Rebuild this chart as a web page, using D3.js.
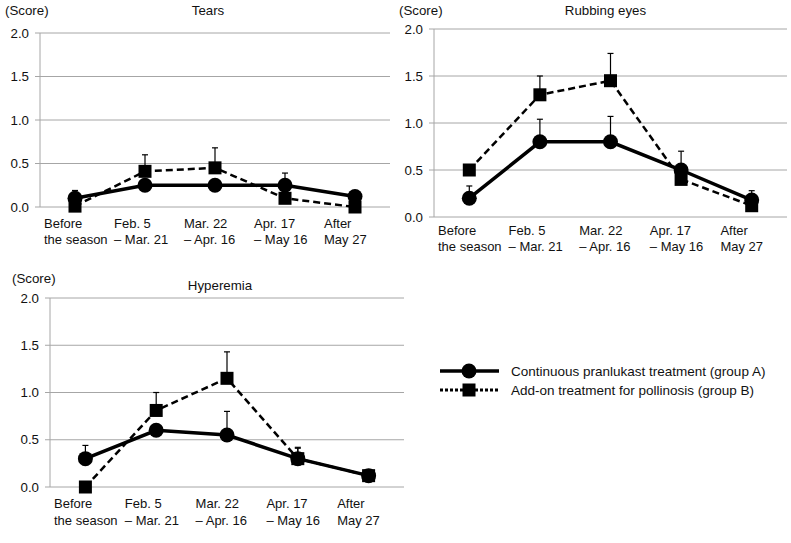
<!DOCTYPE html>
<html><head><meta charset="utf-8">
<script src="https://cdn.jsdelivr.net/npm/d3@7"></script>
<style>body{margin:0;background:#fff}svg{display:block;font-family:"Liberation Sans",Arial,sans-serif}</style>
</head><body><svg id="c" width="791" height="543"></svg>
<script>
const categories = [["Before","the season"],["Feb. 5","– Mar. 21"],["Mar. 22","– Apr. 16"],["Apr. 17","– May 16"],["After","May 27"]];
const yTicks = [0,0.5,1.0,1.5,2.0];
const panelTitles = ["Tears","Rubbing eyes","Hyperemia"];
const groupA_tears = [0.10,0.25,0.25,0.25,0.12];
const groupA_tears_err = [0.19,null,null,0.39,null];
const groupB_tears = [0.01,0.41,0.45,0.10,0.00];
const groupB_tears_err = [null,0.60,0.68,null,null];
const groupA_rub = [0.20,0.80,0.80,0.50,0.18];
const groupA_rub_err = [0.33,1.04,1.07,0.70,0.28];
const groupB_rub = [0.50,1.30,1.45,0.40,0.12];
const groupB_rub_err = [null,1.50,1.74,null,null];
const groupA_hyp = [0.30,0.60,0.55,0.30,0.12];
const groupA_hyp_err = [0.44,null,0.80,0.41,null];
const groupB_hyp = [0.00,0.81,1.15,0.30,0.12];
const groupB_hyp_err = [null,1.00,1.43,0.42,null];
const legendLabels = ["Continuous pranlukast treatment (group A)","Add-on treatment for pollinosis (group B)"];

const FS = 13.3, FX = 13, FL = 13.5;
const svg = d3.select("#c");
const panels = [
  {title:panelTitles[0], A:groupA_tears, Ae:groupA_tears_err, B:groupB_tears, Be:groupB_tears_err,
   x0:40, x1:390, y0:207, y1:33, scoreX:5, scoreY:15, titleY:15, lab1:228, lab2:244},
  {title:panelTitles[1], A:groupA_rub, Ae:groupA_rub_err, B:groupB_rub, Be:groupB_rub_err,
   x0:434, x1:787, y0:217, y1:29, scoreX:399, scoreY:15, titleY:15, lab1:235, lab2:251},
  {title:panelTitles[2], A:groupA_hyp, Ae:groupA_hyp_err, B:groupB_hyp, Be:groupB_hyp_err,
   x0:50, x1:404, y0:487, y1:298, scoreX:12, scoreY:283, titleY:290, lab1:508, lab2:525}
];
const grid = "#a6a6a6";
panels.forEach(p=>{
  const g = svg.append("g");
  const x = d3.scaleBand().domain(d3.range(categories.length)).range([p.x0,p.x1]);
  const y = d3.scaleLinear().domain([0,2]).range([p.y0,p.y1]);
  const cx = i => x(i)+x.bandwidth()/2;
  g.selectAll(".gl").data(yTicks).join("line")
    .attr("x1",p.x0-5).attr("x2",p.x1).attr("y1",d=>y(d)).attr("y2",d=>y(d))
    .attr("stroke",grid).attr("stroke-width",1);
  g.append("line").attr("x1",p.x0).attr("x2",p.x0).attr("y1",y(0)).attr("y2",y(2))
    .attr("stroke",grid).attr("stroke-width",1);
  g.selectAll(".tl").data(yTicks).join("text")
    .attr("x",p.x0-11).attr("y",d=>y(d)).attr("dy","0.35em").attr("text-anchor","end")
    .attr("font-size",FS).attr("fill","#111").text(d=>d3.format(".1f")(d));
  g.append("text").attr("x",p.scoreX).attr("y",p.scoreY).attr("font-size",FS).attr("fill","#111").text("(Score)");
  g.append("text").attr("x",(p.x0+p.x1)/2 - (p.title==="Rubbing eyes"?5:7)).attr("y",p.titleY).attr("text-anchor","middle")
    .attr("font-size",FS).attr("fill","#111").text(p.title);
  categories.forEach((c,i)=>{
    const t = g.append("text").attr("x",x(i)+4).attr("font-size",FX).attr("fill","#111");
    t.append("tspan").attr("x",x(i)+4).attr("y",p.lab1).text(c[0]);
    t.append("tspan").attr("x",x(i)+4).attr("y",p.lab2).text(c[1]);
  });
  const line = d3.line().x((d,i)=>cx(i)).y(d=>y(d));
  [[p.A,p.Ae],[p.B,p.Be]].forEach(([v,e])=>{
    e.forEach((t,i)=>{
      if(t==null) return;
      g.append("line").attr("x1",cx(i)).attr("x2",cx(i)).attr("y1",y(v[i])).attr("y2",y(t)).attr("stroke","#000").attr("stroke-width",1.2);
      g.append("line").attr("x1",cx(i)-3).attr("x2",cx(i)+3).attr("y1",y(t)).attr("y2",y(t)).attr("stroke","#000").attr("stroke-width",1.2);
    });
  });
  g.append("path").datum(p.B).attr("d",line).attr("fill","none").attr("stroke","#000").attr("stroke-width",2.5).attr("stroke-dasharray","7,4");
  g.append("path").datum(p.A).attr("d",line).attr("fill","none").attr("stroke","#000").attr("stroke-width",3.5);
  g.selectAll(".sq").data(p.B).join("rect")
    .attr("x",(d,i)=>cx(i)-6.5).attr("y",d=>y(d)-6.5).attr("width",13).attr("height",13).attr("fill","#000");
  g.selectAll(".ci").data(p.A).join("circle")
    .attr("cx",(d,i)=>cx(i)).attr("cy",d=>y(d)).attr("r",7.5).attr("fill","#000");
});
const lg = svg.append("g");
lg.append("line").attr("x1",440).attr("x2",499).attr("y1",371).attr("y2",371).attr("stroke","#000").attr("stroke-width",3.5);
lg.append("circle").attr("cx",469).attr("cy",371).attr("r",7.5).attr("fill","#000");
lg.append("line").attr("x1",440).attr("x2",499).attr("y1",390).attr("y2",390).attr("stroke","#000").attr("stroke-width",3).attr("stroke-dasharray","3,2");
lg.append("rect").attr("x",462.5).attr("y",383.5).attr("width",13).attr("height",13).attr("fill","#000");
legendLabels.forEach((t,i)=>{
  lg.append("text").attr("x",511).attr("y",371+i*19).attr("dy","0.35em").attr("font-size",FL).attr("fill","#111").text(t);
});
</script></body></html>
